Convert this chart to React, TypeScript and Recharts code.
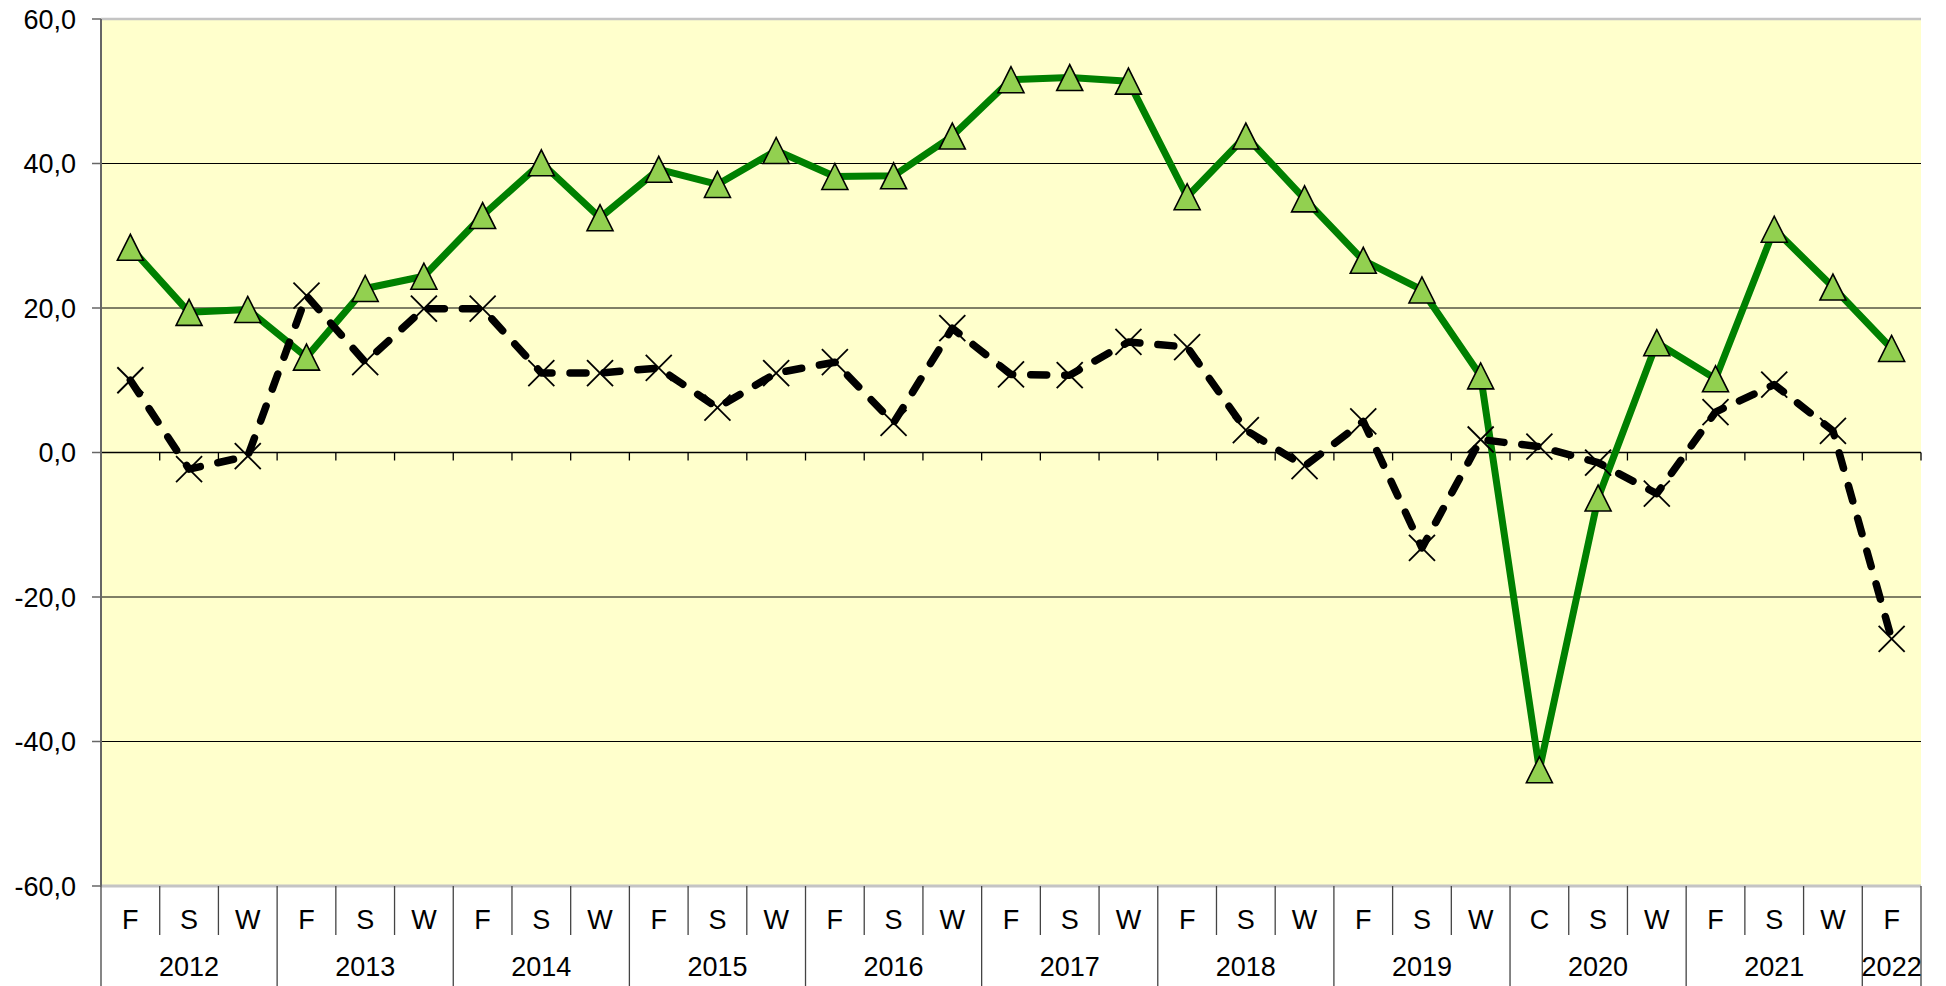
import {
  CartesianGrid,
  Line,
  LineChart,
  ReferenceLine,
  XAxis,
  YAxis,
} from "recharts";

// Category labels (one per half-year/season) and the year each belongs to
const quarters = [
  "F", "S", "W", "F", "S", "W", "F", "S", "W", "F", "S", "W",
  "F", "S", "W", "F", "S", "W", "F", "S", "W", "F", "S", "W",
  "C", "S", "W", "F", "S", "W", "F",
];
const years = [
  "2012", "2012", "2012", "2013", "2013", "2013", "2014", "2014", "2014",
  "2015", "2015", "2015", "2016", "2016", "2016", "2017", "2017", "2017",
  "2018", "2018", "2018", "2019", "2019", "2019", "2020", "2020", "2020",
  "2021", "2021", "2021", "2022",
];

// Series values
const greenValues = [
  28.4, 19.4, 19.8, 13.2, 22.7, 24.4, 32.8, 40.1, 32.5, 39.2, 37.1, 41.8,
  38.2, 38.3, 43.8, 51.6, 51.9, 51.4, 35.4, 43.8, 35.1, 26.6, 22.5, 10.6,
  -43.9, -6.3, 15.2, 10.2, 30.9, 22.9, 14.4,
];
const blackValues = [
  10.0, -2.3, -0.5, 21.7, 12.5, 19.9, 19.9, 11.0, 11.0, 11.7, 6.2, 11.0,
  12.5, 4.1, 17.2, 10.8, 10.7, 15.3, 14.6, 3.1, -1.9, 4.3, -13.2, 1.8,
  0.8, -1.4, -5.7, 5.6, 9.4, 3.0, -25.8,
];
const yTicks = [-60, -40, -20, 0, 20, 40, 60];

const data = quarters.map((q, i) => ({
  key: `${years[i]}-${q}-${i}`,
  green: greenValues[i],
  black: blackValues[i],
}));

// layout
const W = 1946;
const H = 986;
const MARGIN = { top: 19, right: 25, left: 0, bottom: 0 };
const Y_AXIS_W = 101;
const X_AXIS_H = 100;
const PLOT_W = W - MARGIN.left - MARGIN.right - Y_AXIS_W;
const BAND = PLOT_W / quarters.length;
const FONT = "'Liberation Sans', Arial, sans-serif";
const SEP = "#444";
const BORDER = "#c4c4c4";

function CategoryTick(props: any) {
  const { x, y, index } = props;
  const yr = years[index];
  const first = years.indexOf(yr);
  const last = years.lastIndexOf(yr);
  const right = x + BAND / 2;
  return (
    <g>
      {index === 0 && (
        <line x1={x - BAND / 2} x2={x - BAND / 2} y1={y} y2={H} stroke={SEP} strokeWidth={1.3} />
      )}
      <line
        x1={right}
        x2={right}
        y1={y}
        y2={index === last ? H : y + 49}
        stroke={SEP}
        strokeWidth={1.3}
      />
      <text x={x} y={y + 43} textAnchor="middle" fontSize={27} fontFamily={FONT} fill="#000">
        {quarters[index]}
      </text>
      {index === first && (
        <text
          x={x + ((last - first) * BAND) / 2}
          y={y + 90}
          textAnchor="middle"
          fontSize={27}
          fontFamily={FONT}
          fill="#000"
        >
          {yr}
        </text>
      )}
    </g>
  );
}

// zero line with small tick marks at category boundaries
function ZeroAxis(props: any) {
  const { x1, x2, y1 } = props;
  const step = (x2 - x1) / quarters.length;
  return (
    <g>
      <line x1={x1} x2={x2} y1={y1} y2={y1} stroke="#000" strokeWidth={1.3} />
      {quarters.map((_, k) => (
        <line
          key={k}
          x1={x1 + step * (k + 1)}
          x2={x1 + step * (k + 1)}
          y1={y1}
          y2={y1 + 8}
          stroke="#000"
          strokeWidth={1.3}
        />
      ))}
    </g>
  );
}

function TriangleDot(props: any) {
  const { cx, cy, index } = props;
  if (cx == null || cy == null) return <g key={index} />;
  const s = 13;
  return (
    <polygon
      key={index}
      points={`${cx},${cy - s} ${cx - s},${cy + s} ${cx + s},${cy + s}`}
      fill="#92D050"
      stroke="#000"
      strokeWidth={1.6}
      strokeLinejoin="miter"
    />
  );
}

function CrossDot(props: any) {
  const { cx, cy, index } = props;
  if (cx == null || cy == null) return <g key={index} />;
  const s = 13;
  return (
    <g key={index}>
      <line x1={cx - s} y1={cy - s} x2={cx + s} y2={cy + s} stroke="#000" strokeWidth={1.8} />
      <line x1={cx - s} y1={cy + s} x2={cx + s} y2={cy - s} stroke="#000" strokeWidth={1.8} />
    </g>
  );
}

export default function App() {
  return (
    <div style={{ position: "fixed", left: 0, top: 0, background: "#fff" }}>
      <LineChart width={W} height={H} data={data} margin={MARGIN}>
        <CartesianGrid vertical={false} stroke="#000" strokeWidth={1} fill="#FFFFCC" fillOpacity={1} />
        <ReferenceLine y={60} stroke={BORDER} strokeWidth={2.5} />
        <ReferenceLine y={0} shape={ZeroAxis} />
        <XAxis
          dataKey="key"
          type="category"
          interval={0}
          height={X_AXIS_H}
          padding={{ left: BAND / 2, right: BAND / 2 }}
          axisLine={{ stroke: BORDER, strokeWidth: 3 }}
          tickLine={false}
          tickSize={0}
          tickMargin={0}
          tick={CategoryTick}
        />
        <YAxis
          type="number"
          domain={[-60, 60]}
          ticks={yTicks}
          interval={0}
          width={Y_AXIS_W}
          tickSize={9}
          tickMargin={16}
          axisLine={{ stroke: "#666", strokeWidth: 2 }}
          tickLine={{ stroke: "#666", strokeWidth: 1.5 }}
          tick={{ fill: "#000", fontSize: 27, fontFamily: FONT }}
          tickFormatter={(v: number) => v.toFixed(1).replace(".", ",")}
        />
        <YAxis
          yAxisId="border"
          orientation="right"
          type="number"
          domain={[-60, 60]}
          width={0}
          tick={false}
          tickLine={false}
          axisLine={{ stroke: BORDER, strokeWidth: 3 }}
        />
        <Line
          dataKey="green"
          stroke="#008000"
          strokeWidth={7}
          strokeLinejoin="round"
          dot={TriangleDot}
          activeDot={false}
          isAnimationActive={false}
        />
        <Line
          dataKey="black"
          stroke="#000"
          strokeWidth={7.5}
          strokeDasharray="16 18"
          strokeLinecap="round"
          strokeLinejoin="round"
          dot={CrossDot}
          activeDot={false}
          isAnimationActive={false}
        />
      </LineChart>
    </div>
  );
}
